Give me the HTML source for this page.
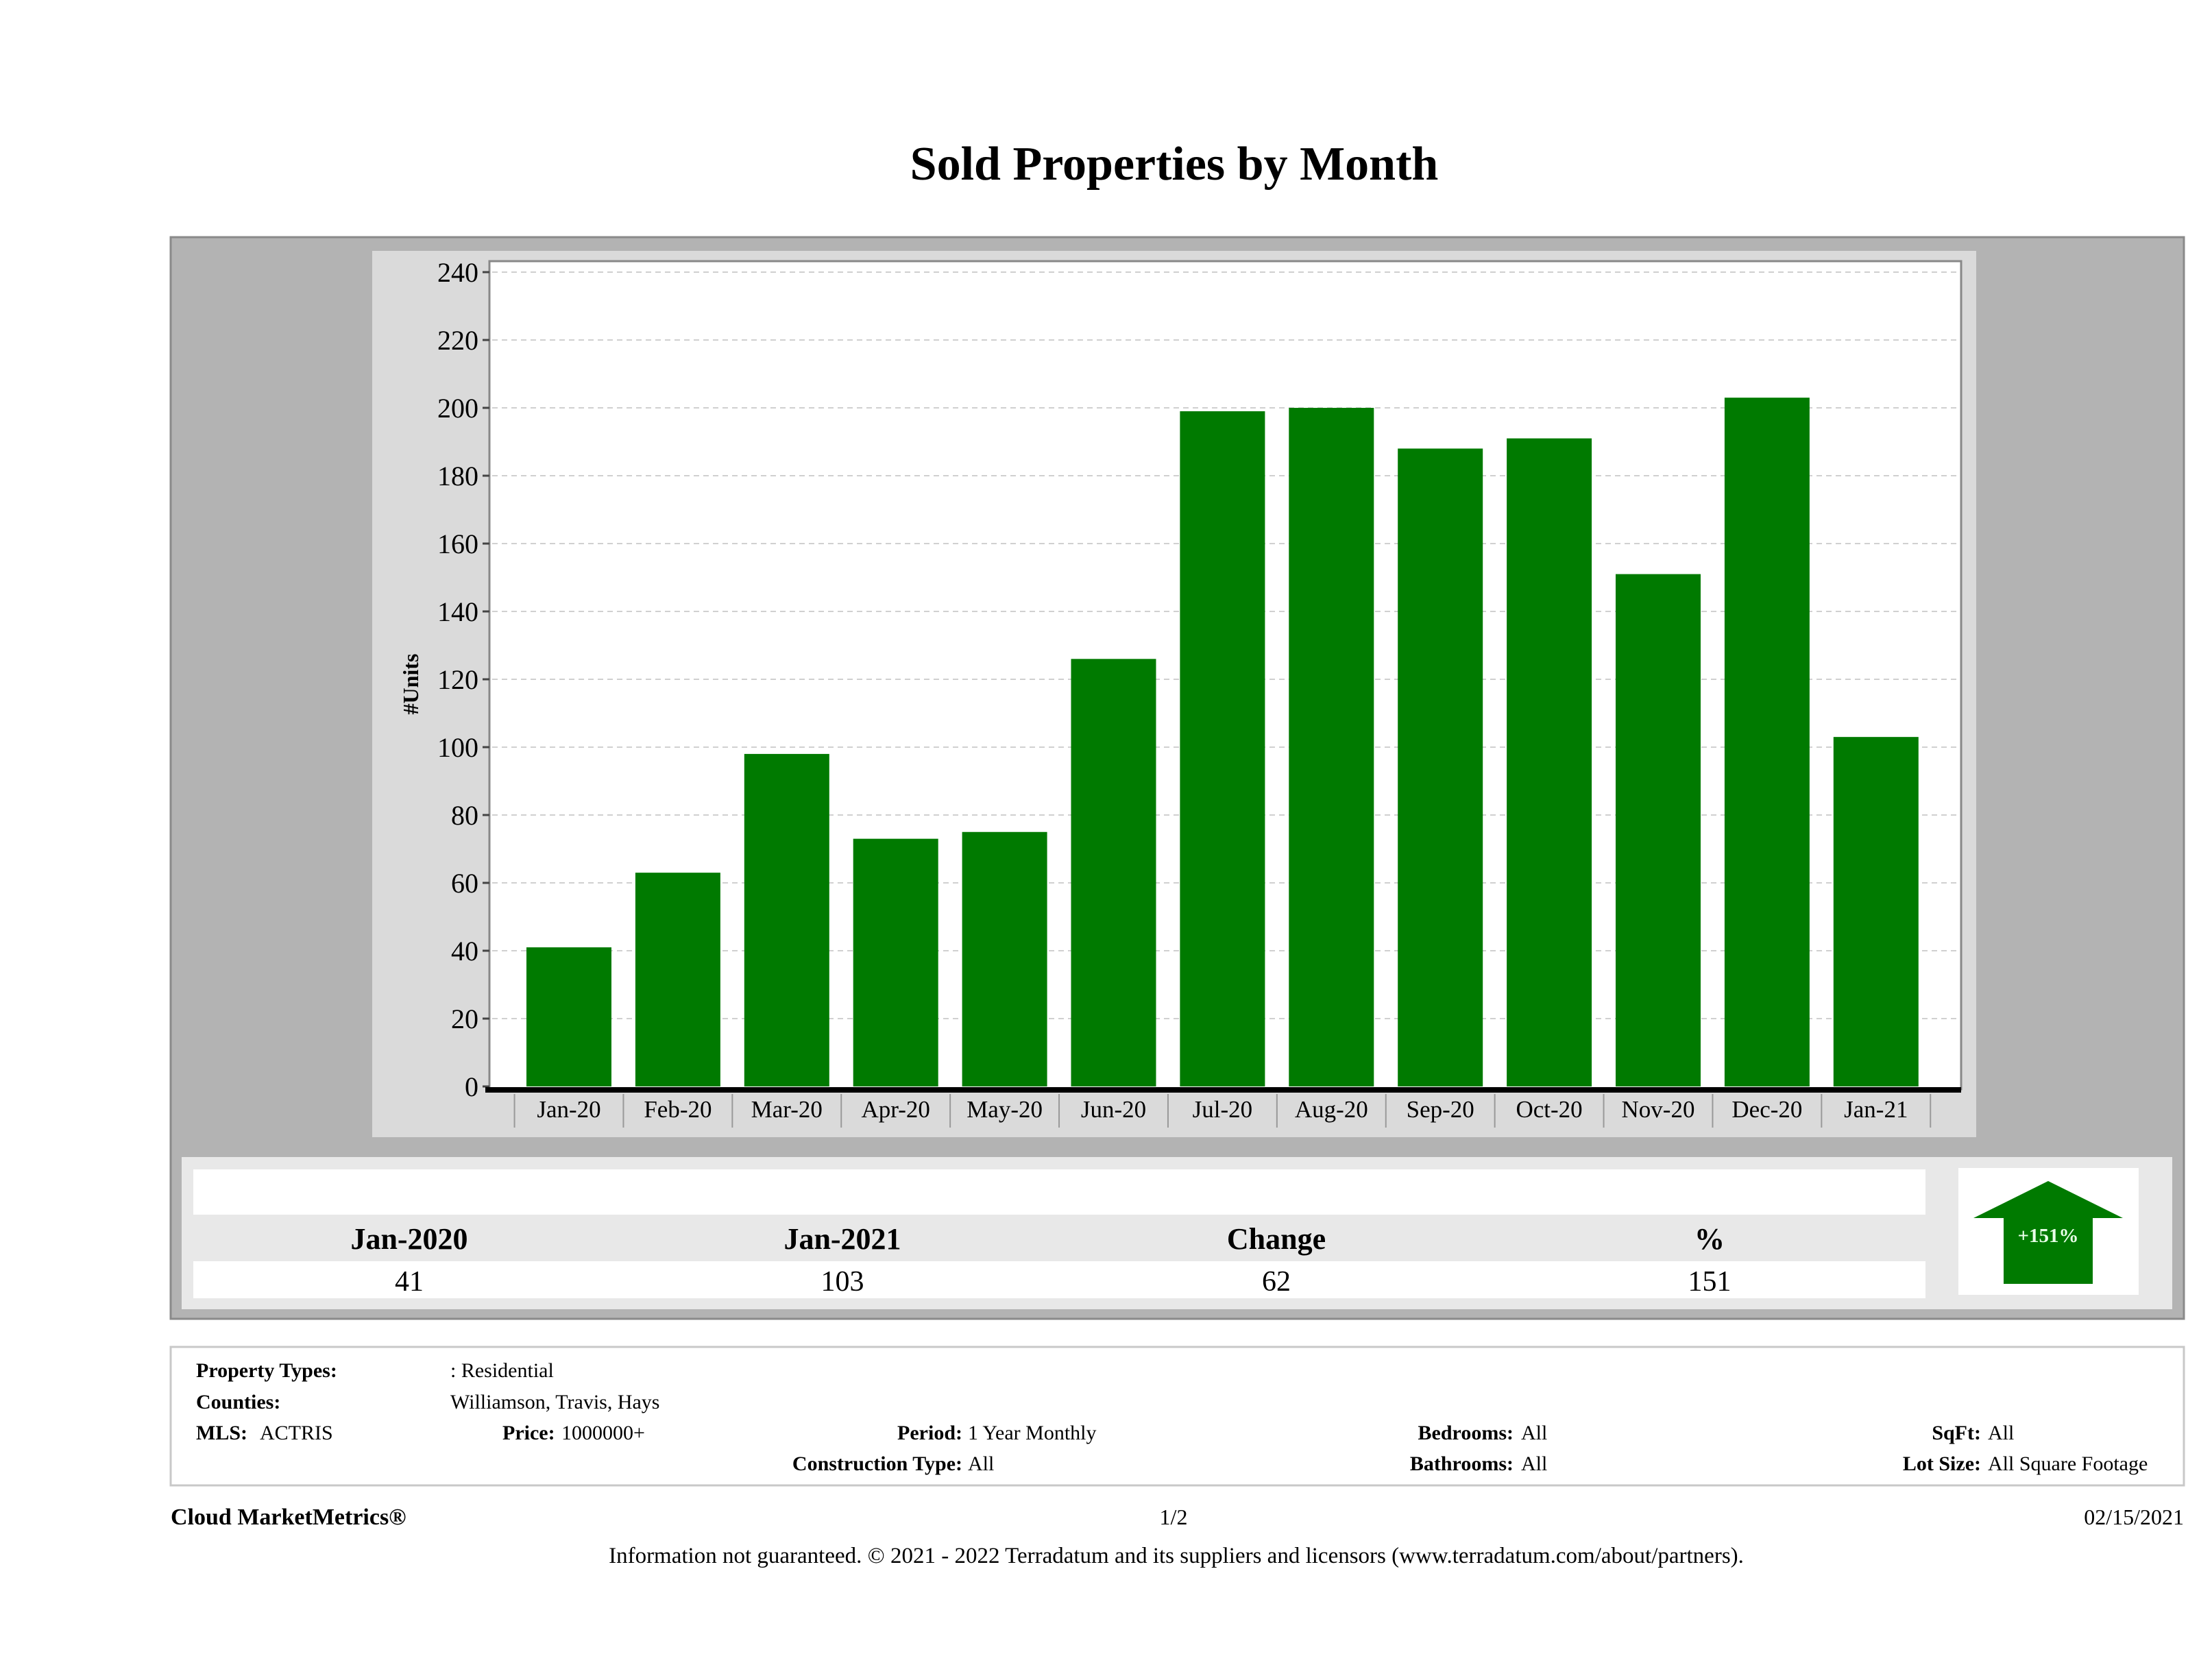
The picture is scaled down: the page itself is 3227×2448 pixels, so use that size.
<!DOCTYPE html>
<html><head><meta charset="utf-8"><style>
html,body{margin:0;padding:0;background:#fff;}
svg{display:block;font-family:"Liberation Serif",serif;}
</style></head><body>
<svg id="page" width="3227" height="2448" viewBox="0 0 3227 2448" xmlns="http://www.w3.org/2000/svg">
<text x="1713" y="262" text-anchor="middle" font-size="70" font-weight="bold" fill="#000">Sold Properties by Month</text>
<rect x="249" y="346" width="2937" height="1578" fill="#b3b3b3" stroke="#8a8a8a" stroke-width="3"/>
<rect x="543" y="366" width="2340" height="1293" fill="#dadada"/>
<rect x="714" y="381" width="2147" height="1208" fill="#fff" stroke="#888" stroke-width="3"/>
<g id="grid"></g>
<g id="bars"></g>
<g id="axes"></g>
<text transform="translate(610,998) rotate(-90)" text-anchor="middle" font-size="32" font-weight="bold">#Units</text>

<rect x="265" y="1688" width="2904" height="222" fill="#e8e8e8"/>
<rect x="282" y="1706" width="2527" height="66" fill="#fff"/>
<rect x="282" y="1840" width="2527" height="54" fill="#fff"/>
<g font-size="44" font-weight="bold" text-anchor="middle">
<text x="597" y="1822">Jan-2020</text>
<text x="1229" y="1822">Jan-2021</text>
<text x="1862" y="1822">Change</text>
<text x="2494" y="1822">%</text>
</g>
<g font-size="42" text-anchor="middle">
<text x="597" y="1883">41</text>
<text x="1229" y="1883">103</text>
<text x="1862" y="1883">62</text>
<text x="2494" y="1883">151</text>
</g>
<rect x="2857" y="1704" width="263" height="185" fill="#fff"/>
<polygon points="2988,1723 3097,1777 3053,1777 3053,1873 2923,1873 2923,1777 2879,1777" fill="#007a00"/>
<text x="2988" y="1812" text-anchor="middle" font-size="29" font-weight="bold" fill="#e8ffe8">+151%</text>

<rect x="249" y="1965" width="2937" height="202" fill="#fff" stroke="#c8c8c8" stroke-width="3"/>
<g font-size="30">
<text x="286" y="2009" font-weight="bold">Property Types:</text>
<text x="657" y="2009">: Residential</text>
<text x="286" y="2055" font-weight="bold">Counties:</text>
<text x="657" y="2055">Williamson, Travis, Hays</text>
<text x="286" y="2100" font-weight="bold">MLS:</text>
<text x="379" y="2100">ACTRIS</text>
<text x="733" y="2100" font-weight="bold">Price:</text>
<text x="819" y="2100">1000000+</text>
<text x="1404" y="2100" font-weight="bold" text-anchor="end">Period:</text>
<text x="1412" y="2100">1 Year Monthly</text>
<text x="2208" y="2100" font-weight="bold" text-anchor="end">Bedrooms:</text>
<text x="2219" y="2100">All</text>
<text x="2890" y="2100" font-weight="bold" text-anchor="end">SqFt:</text>
<text x="2900" y="2100">All</text>
<text x="1404" y="2145" font-weight="bold" text-anchor="end">Construction Type:</text>
<text x="1412" y="2145">All</text>
<text x="2208" y="2145" font-weight="bold" text-anchor="end">Bathrooms:</text>
<text x="2219" y="2145">All</text>
<text x="2890" y="2145" font-weight="bold" text-anchor="end">Lot Size:</text>
<text x="2900" y="2145">All Square Footage</text>
</g>
<text x="249" y="2224" font-size="34" font-weight="bold">Cloud MarketMetrics®</text>
<text x="1712" y="2224" font-size="32" text-anchor="middle">1/2</text>
<text x="3186" y="2224" font-size="32" text-anchor="end">02/15/2021</text>
<text x="1716" y="2280" font-size="33" text-anchor="middle">Information not guaranteed. © 2021 - 2022 Terradatum and its suppliers and licensors (www.terradatum.com/about/partners).</text>
</svg>
<script>
const categories = ["Jan-20","Feb-20","Mar-20","Apr-20","May-20","Jun-20","Jul-20","Aug-20","Sep-20","Oct-20","Nov-20","Dec-20","Jan-21"];
const soldUnits = [41,63,98,73,75,126,199,200,188,191,151,203,103];
const yTicks = [0,20,40,60,80,100,120,140,160,180,200,220,240];

const NS = "http://www.w3.org/2000/svg";
const plotL = 714, plotR = 2861, y0 = 1585, yTop = 397, yMax = 240;
const firstCenter = 830, step = 158.9, barW = 124;
function yScale(v){ return y0 - (v / yMax) * (y0 - yTop); }
function xScale(i){ return firstCenter + i * step; }
function mk(tag, attrs, parent){ const e = document.createElementNS(NS, tag); for (const k in attrs) e.setAttribute(k, attrs[k]); parent.appendChild(e); return e; }

const grid = document.getElementById('grid');
const axes = document.getElementById('axes');
const bars = document.getElementById('bars');
yTicks.forEach(function(t){
  const y = yScale(t);
  if (t > 0) {
    const g = mk('line', {x1: plotL+4, x2: plotR-4, y1: y, y2: y, stroke: '#d0d0d0', 'stroke-width': 2, 'stroke-dasharray': '8 6'}, grid);
    
    
  }
  const tk = mk('line', {x1: plotL-10, x2: plotL, y1: y, y2: y, stroke: '#444', 'stroke-width': 3}, axes);
  
  
  const lb = mk('text', {x: plotL-16, y: y+14, 'text-anchor': 'end', 'font-size': 40}, axes);
  lb.textContent = t;
  
  
});
soldUnits.forEach(function(v, i){
  const cx = xScale(i);
  const r = mk('rect', {x: cx - barW/2, y: yScale(v), width: barW, height: y0 - yScale(v), fill: '#007a00'}, bars);
  
  
  const lb = mk('text', {x: cx, y: 1630, 'text-anchor': 'middle', 'font-size': 35}, axes);
  lb.textContent = categories[i];
  
  
  const sep = mk('line', {x1: cx - step/2, x2: cx - step/2, y1: 1596, y2: 1645, stroke: '#999', 'stroke-width': 2}, axes);
  
  
});
const lastSep = mk('line', {x1: xScale(categories.length-1) + step/2, x2: xScale(categories.length-1) + step/2, y1: 1596, y2: 1645, stroke: '#999', 'stroke-width': 2}, axes);


const xAxis = mk('line', {x1: plotL-6, x2: plotR, y1: 1590, y2: 1590, stroke: '#000', 'stroke-width': 8}, axes);


</script>
</body></html>
